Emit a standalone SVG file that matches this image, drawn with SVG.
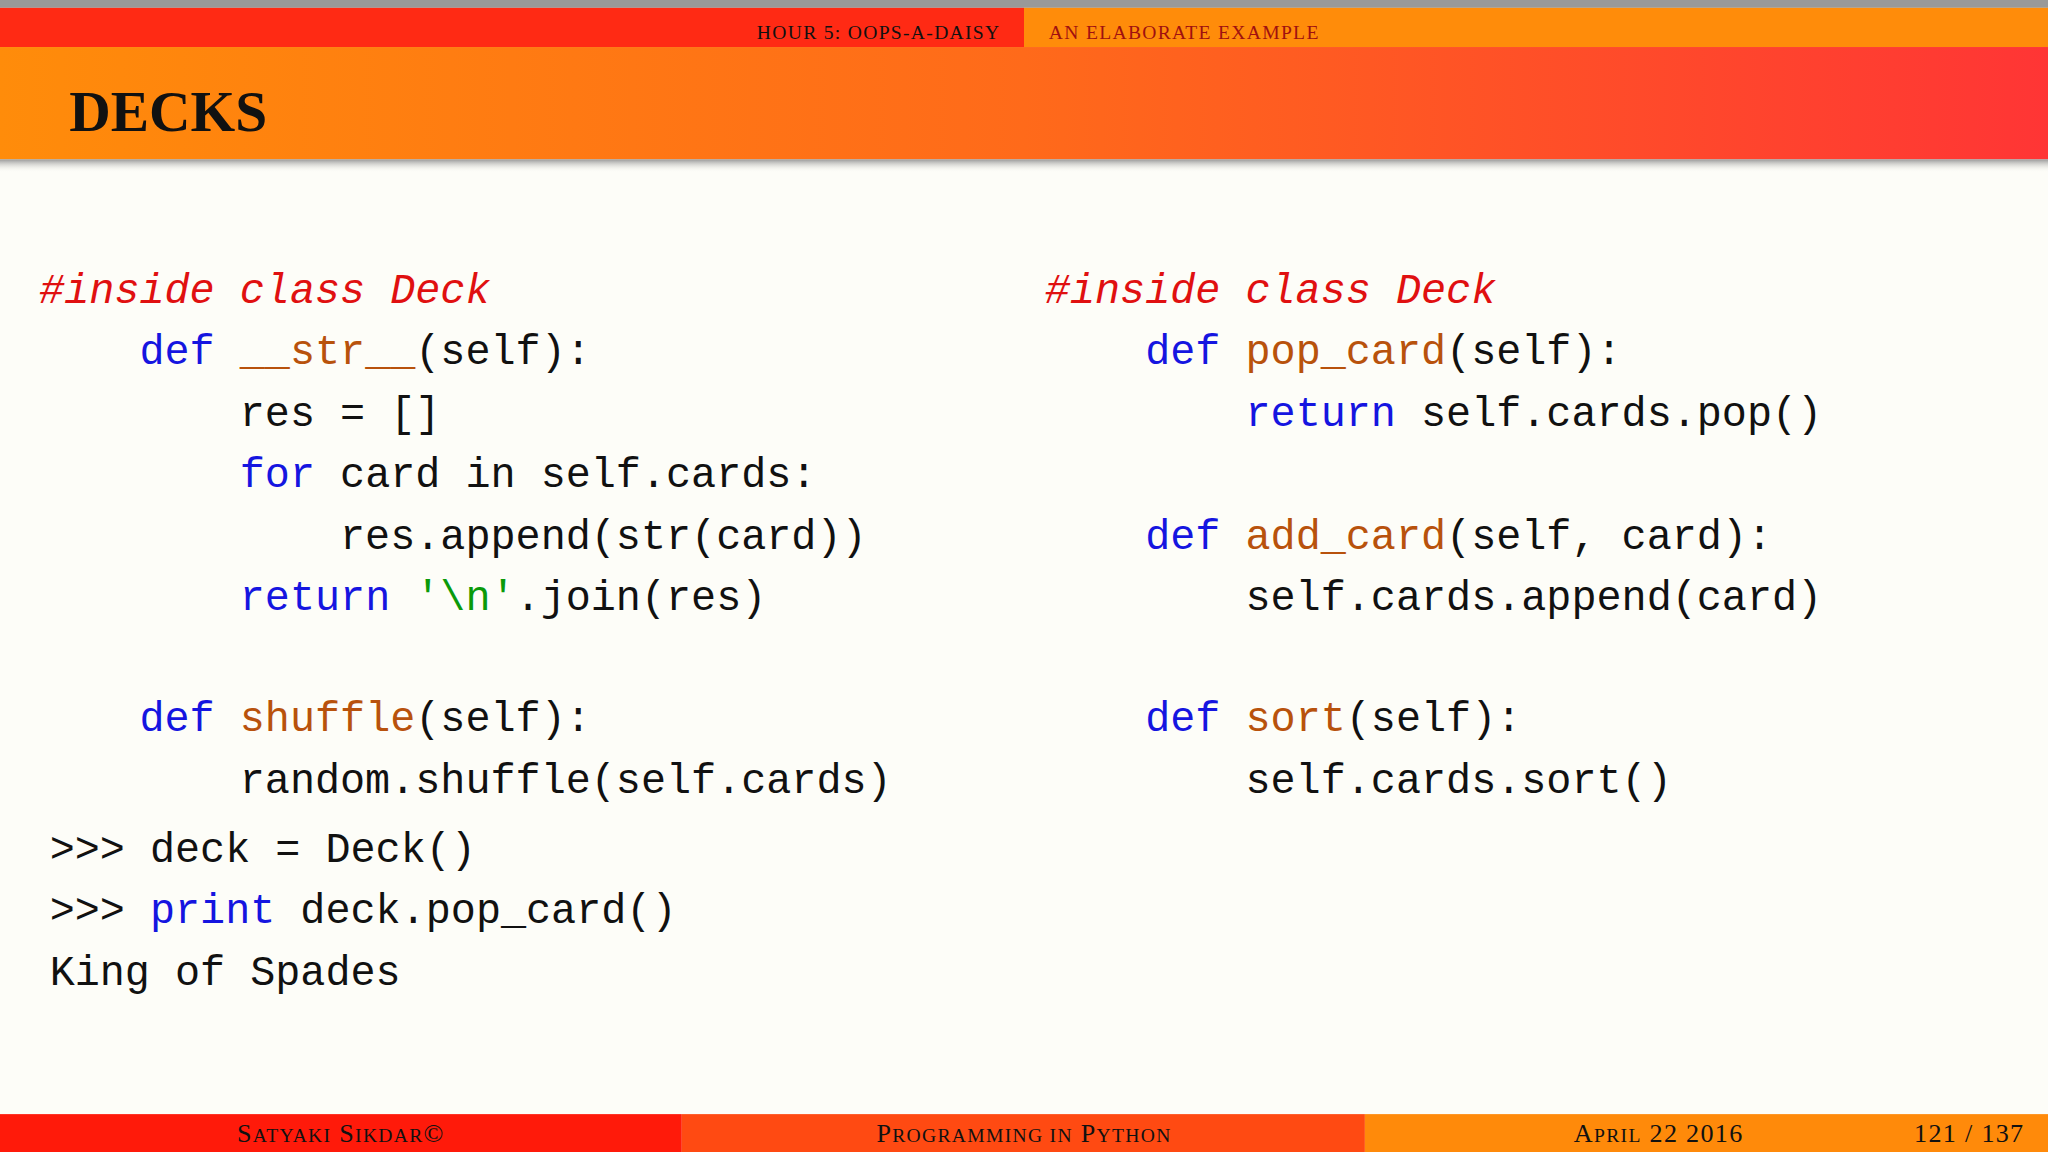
<svg xmlns="http://www.w3.org/2000/svg" width="2048" height="1152" viewBox="0 0 2048 1152">
<defs>
<linearGradient id="tg" x1="0" x2="1" y1="0" y2="0"><stop offset="0" stop-color="#ff8c0a"/><stop offset="0.5" stop-color="#ff6a1a"/><stop offset="1" stop-color="#ff3535"/></linearGradient>
<linearGradient id="sh" x1="0" x2="0" y1="0" y2="1"><stop offset="0" stop-color="#999"/><stop offset="1" stop-color="#fdfdf8" stop-opacity="0"/></linearGradient>
<style>
.c{font-family:"Liberation Mono","DejaVu Sans Mono",monospace;font-size:32px;fill:#111;white-space:pre}
.k{fill:#1515e0}.f{fill:#b8520c}.s{fill:#0a9a0a}.m{fill:#e01010;font-style:italic}
.sc{font-family:"Liberation Serif",serif;font-size:15px;letter-spacing:1px}
.ft{font-family:"Liberation Serif",serif;font-size:20px;fill:#111;letter-spacing:1px}
</style>
</defs>
<g transform="scale(1.30612)">
<rect width="1568" height="882" fill="#fdfdf8"/>
<rect width="1568" height="6" fill="#999"/>
<rect y="6" width="784" height="30" fill="#ff2a14"/>
<rect x="784" y="6" width="784" height="30" fill="#ff8c0a"/>
<text x="766" y="30" text-anchor="end" class="sc" fill="#111">HOUR 5: OOPS-A-DAISY</text>
<text x="803" y="30" class="sc" fill="#a01010">AN ELABORATE EXAMPLE</text>
<rect y="36" width="1568" height="86" fill="url(#tg)"/>
<rect y="122" width="1568" height="10" fill="url(#sh)"/>
<text x="53" y="100" font-family="Liberation Serif,serif" font-weight="bold" font-size="44" fill="#111">DECKS</text>
<g id="left">
<text x="30" y="232" class="c m">#inside class Deck</text>
<text x="30" y="279" class="c">    <tspan class="k">def</tspan> <tspan class="f">__str__</tspan>(self):</text>
<text x="30" y="326" class="c">        res = []</text>
<text x="30" y="373" class="c">        <tspan class="k">for</tspan> card in self.cards:</text>
<text x="30" y="420" class="c">            res.append(str(card))</text>
<text x="30" y="467" class="c">        <tspan class="k">return</tspan> <tspan class="s">'\n'</tspan>.join(res)</text>
<text x="30" y="560" class="c">    <tspan class="k">def</tspan> <tspan class="f">shuffle</tspan>(self):</text>
<text x="30" y="607" class="c">        random.shuffle(self.cards)</text>
<text x="38" y="660" class="c">&gt;&gt;&gt; deck = Deck()</text>
<text x="38" y="707" class="c">&gt;&gt;&gt; <tspan class="k">print</tspan> deck.pop_card()</text>
<text x="38" y="754" class="c">King of Spades</text>
</g>
<g id="right">
<text x="800" y="232" class="c m">#inside class Deck</text>
<text x="800" y="279" class="c">    <tspan class="k">def</tspan> <tspan class="f">pop_card</tspan>(self):</text>
<text x="800" y="326" class="c">        <tspan class="k">return</tspan> self.cards.pop()</text>
<text x="800" y="420" class="c">    <tspan class="k">def</tspan> <tspan class="f">add_card</tspan>(self, card):</text>
<text x="800" y="467" class="c">        self.cards.append(card)</text>
<text x="800" y="560" class="c">    <tspan class="k">def</tspan> <tspan class="f">sort</tspan>(self):</text>
<text x="800" y="607" class="c">        self.cards.sort()</text>
</g>
<rect y="853" width="522" height="29" fill="#ff1a0a"/>
<rect x="522" y="853" width="523" height="29" fill="#ff4a12"/>
<rect x="1045" y="853" width="523" height="29" fill="#ff8a0a"/>
<text x="261" y="874" text-anchor="middle" class="ft">S<tspan font-size="15">ATYAKI</tspan> S<tspan font-size="15">IKDAR</tspan>©</text>
<text x="784" y="874" text-anchor="middle" class="ft">P<tspan font-size="15">ROGRAMMING IN</tspan> P<tspan font-size="15">YTHON</tspan></text>
<text x="1205" y="874" class="ft">A<tspan font-size="15">PRIL</tspan> 22 2016</text>
<text x="1550" y="874" text-anchor="end" class="ft">121 / 137</text>
</g>
</svg>
